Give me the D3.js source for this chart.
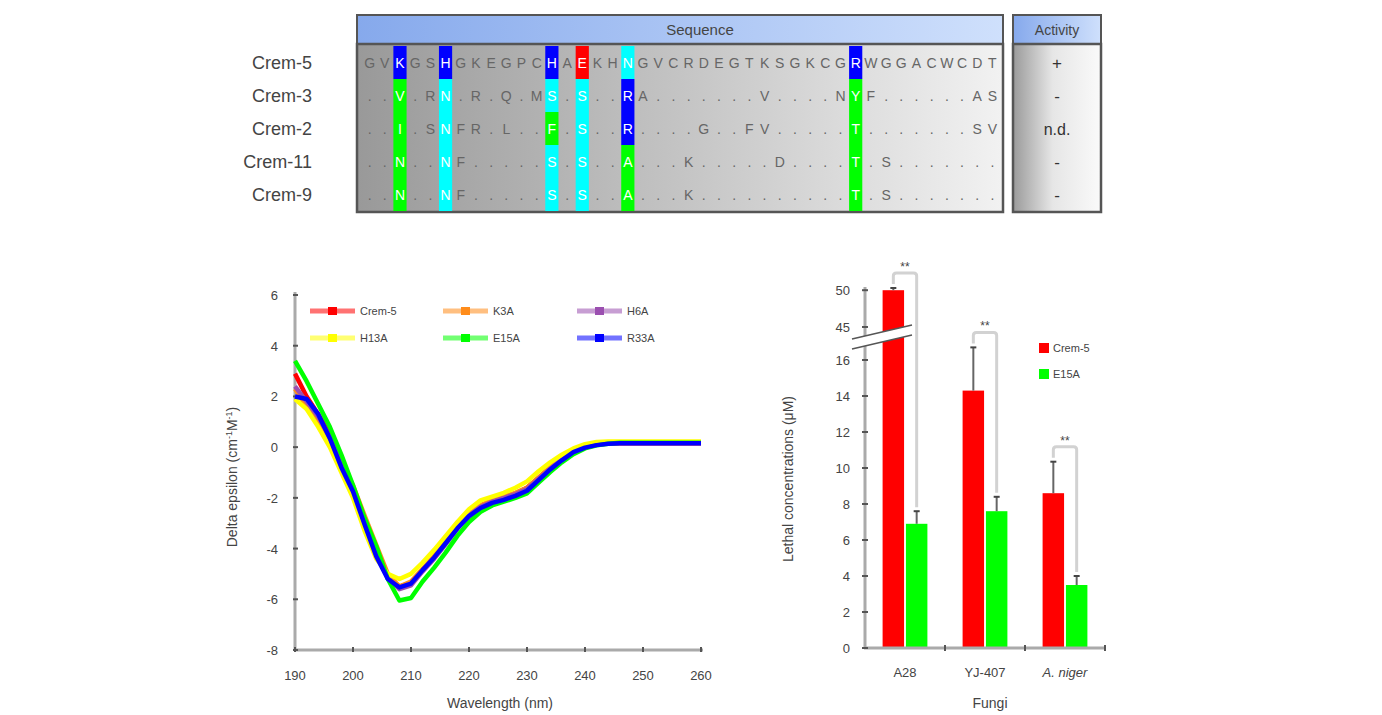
<!DOCTYPE html>
<html>
<head>
<meta charset="utf-8">
<script src="https://cdn.jsdelivr.net/npm/d3@7"></script>
<style>
  body { margin: 0; background: #fff; }
  text { font-family: "Liberation Sans", Arial, sans-serif; fill: #444; }
</style>
</head>
<body>
<div id="chart"></div>
<script>
// ---- data ----
const PEPTIDES = ["Crem-5", "Crem-3", "Crem-2", "Crem-11", "Crem-9"];
const SEQUENCES = [
  "GVKGSHGKEGPCHAEKHNGVCRDEGTKSGKCGRWGGACWCDT",
  "..V.RN.R.Q.MS.S..RA.......V....NYF......AS",
  "..I.SNFR.L..F.S..R....G..FV.....T.......SV",
  "..N..NF.....S.S..A...K.....D....T.S.......",
  "..N..NF.....S.S..A...K..........T.S......."
];
const ACTIVITY = ["+", "-", "n.d.", "-", "-"];
// highlighted columns and colour of each row
const HL_COLS = [2, 5, 12, 14, 17, 32];
const HL_COLORS = [
  ["blue", "green", "green", "green", "green"],
  ["blue", "cyan", "cyan", "cyan", "cyan"],
  ["blue", "cyan", "green", "cyan", "cyan"],
  ["red", "cyan", "cyan", "cyan", "cyan"],
  ["cyan", "blue", "blue", "green", "green"],
  ["blue", "green", "green", "green", "green"]
];

const WAVELENGTHS = d3.range(190, 261, 2);
const CD_NAMES = ["Crem-5", "K3A", "H6A", "H13A", "E15A", "R33A"];
const CD_COLORS = ["#ff0000", "#ff8c1a", "#9b4fb0", "#ffff00", "#00ff00", "#0000ff"];
const CD_CREM5 = [2.9, 2.0, 1.3, 0.5, -0.6, -1.7, -2.9, -4.1, -5.1, -5.5, -5.35, -4.85, -4.3, -3.7, -3.1, -2.6, -2.3, -2.1, -1.98, -1.82, -1.6, -1.2, -0.8, -0.45, -0.15, 0.02, 0.1, 0.14, 0.15, 0.15, 0.15, 0.15, 0.15, 0.15, 0.15, 0.15];
const CD_K3A = [2.3, 1.6, 1.0, 0.3, -0.6, -1.5, -2.7, -3.85, -5.0, -5.5, -5.3, -4.8, -4.3, -3.7, -3.15, -2.65, -2.3, -2.1, -1.95, -1.8, -1.6, -1.2, -0.8, -0.45, -0.15, 0.03, 0.12, 0.15, 0.16, 0.16, 0.16, 0.16, 0.16, 0.16, 0.16, 0.16];
const CD_H6A = [2.4, 1.8, 1.2, 0.4, -0.75, -1.8, -3.0, -4.2, -5.15, -5.6, -5.45, -4.9, -4.4, -3.82, -3.22, -2.7, -2.35, -2.15, -2.0, -1.85, -1.65, -1.25, -0.85, -0.48, -0.18, 0.0, 0.1, 0.14, 0.15, 0.15, 0.15, 0.15, 0.15, 0.15, 0.15, 0.15];
const CD_H13A = [1.9, 1.5, 0.8, 0.0, -1.0, -2.0, -3.3, -4.4, -5.0, -5.2, -5.0, -4.55, -4.05, -3.5, -2.95, -2.45, -2.1, -1.95, -1.8, -1.6, -1.35, -0.95, -0.6, -0.3, -0.05, 0.12, 0.2, 0.22, 0.22, 0.22, 0.22, 0.22, 0.22, 0.22, 0.22, 0.22];
const CD_E15A = [3.4, 2.6, 1.7, 0.8, -0.3, -1.5, -2.8, -3.9, -5.2, -6.05, -5.95, -5.3, -4.75, -4.15, -3.5, -2.95, -2.55, -2.3, -2.15, -2.0, -1.82, -1.4, -0.98, -0.6, -0.28, -0.05, 0.07, 0.13, 0.17, 0.17, 0.17, 0.17, 0.17, 0.17, 0.17, 0.17];
const CD_R33A = [2.0, 1.9, 1.3, 0.35, -0.8, -1.75, -3.05, -4.3, -5.2, -5.53, -5.38, -4.85, -4.35, -3.78, -3.2, -2.72, -2.4, -2.2, -2.08, -1.92, -1.72, -1.3, -0.88, -0.52, -0.2, -0.02, 0.08, 0.13, 0.15, 0.15, 0.15, 0.15, 0.15, 0.15, 0.15, 0.15];
const CD_SERIES = [CD_CREM5, CD_K3A, CD_H6A, CD_H13A, CD_E15A, CD_R33A];
const CD_X_TICKS = [190, 200, 210, 220, 230, 240, 250, 260];
const CD_Y_TICKS = [6, 4, 2, 0, -2, -4, -6, -8];

const FUNGI = ["A28", "YJ-407", "A. niger"];
const BAR_GROUPS = ["Crem-5", "E15A"];
const BAR_COLORS = ["#ff0000", "#00ff00"];
const LC_CREM5 = [50, 14.3, 8.6];
const LC_CREM5_SD = [0.3, 2.4, 1.75];
const LC_E15A = [6.9, 7.6, 3.5];
const LC_E15A_SD = [0.7, 0.8, 0.5];
const LC_LOW_TICKS = [0, 2, 4, 6, 8, 10, 12, 14, 16];
const LC_HIGH_TICKS = [45, 50];

// ---- frame ----
const FRAME_WIDTH = 1382;
const FRAME_HEIGHT = 715;
const SVG = d3.select("#chart").append("svg")
  .attr("width", FRAME_WIDTH)
  .attr("height", FRAME_HEIGHT);

const defs = SVG.append("defs");
function grad(id, stops, vertical) {
  const g = defs.append("linearGradient").attr("id", id)
    .attr("x1", 0).attr("y1", 0)
    .attr("x2", vertical ? 0 : 1).attr("y2", vertical ? 1 : 0);
  stops.forEach(s => g.append("stop").attr("offset", s[0]).attr("stop-color", s[1]));
}
grad("seqBody", [[0, "#999999"], [0.5, "#c4c4c4"], [1, "#f2f2f2"]]);
grad("actBody", [[0, "#9a9a9a"], [0.45, "#e6e6e6"], [1, "#fafafa"]]);
grad("hdr", [[0, "#86a9ec"], [1, "#cfe0fc"]]);

// ---- sequence alignment table ----
const TABLE = SVG.append("g");
const SEQ_X = d3.scaleBand().domain(d3.range(42)).range([362, 1000]);
const ROW_Y = d3.scaleBand().domain(PEPTIDES).range([46, 211]);

TABLE.append("rect").attr("x", 357).attr("y", 15).attr("width", 646).attr("height", 29)
  .attr("fill", "url(#hdr)").attr("stroke", "#555").attr("stroke-width", 2);
TABLE.append("rect").attr("x", 1013).attr("y", 15).attr("width", 88).attr("height", 29)
  .attr("fill", "url(#hdr)").attr("stroke", "#555").attr("stroke-width", 2);
TABLE.append("rect").attr("x", 357).attr("y", 44).attr("width", 646).attr("height", 168)
  .attr("fill", "url(#seqBody)").attr("stroke", "#555").attr("stroke-width", 2.5);
TABLE.append("rect").attr("x", 1013).attr("y", 44).attr("width", 88).attr("height", 168)
  .attr("fill", "url(#actBody)").attr("stroke", "#555").attr("stroke-width", 2.5);
TABLE.append("text").attr("x", 700).attr("y", 35).attr("text-anchor", "middle")
  .attr("font-size", 15).text("Sequence");
TABLE.append("text").attr("x", 1057).attr("y", 35).attr("text-anchor", "middle")
  .attr("font-size", 14).text("Activity");

const COLOR_MAP = {blue: "#0000ff", green: "#00ff00", cyan: "#00ffff", red: "#ff0000"};
HL_COLS.forEach((c, i) => {
  PEPTIDES.forEach((p, r) => {
    TABLE.append("rect")
      .attr("x", SEQ_X(c) + 1).attr("y", ROW_Y(p))
      .attr("width", SEQ_X.bandwidth() - 2).attr("height", ROW_Y.bandwidth())
      .attr("fill", COLOR_MAP[HL_COLORS[i][r]]);
  });
});

PEPTIDES.forEach((p, r) => {
  const cy = ROW_Y(p) + ROW_Y.bandwidth() / 2;
  TABLE.append("text").attr("x", 312).attr("y", cy + 6).attr("text-anchor", "end")
    .attr("font-size", 18).attr("fill", "#444").text(p);
  SEQUENCES[r].split("").forEach((ch, c) => {
    const hl = HL_COLS.includes(c);
    TABLE.append("text")
      .attr("x", SEQ_X(c) + SEQ_X.bandwidth() / 2).attr("y", cy + 5)
      .attr("text-anchor", "middle").attr("font-size", 14)
      .style("fill", hl ? "#ffffff" : "#666")
      .text(ch);
  });
  TABLE.append("text").attr("x", 1057).attr("y", cy + 6).attr("text-anchor", "middle")
    .attr("font-size", ACTIVITY[r] === "n.d." ? 16 : 17).style("fill", "#333").text(ACTIVITY[r]);
});

// ---- CD spectra ----
const CD = SVG.append("g");
const CD_X = d3.scaleLinear().domain([190, 260]).range([295, 701]);
const CD_Y = d3.scaleLinear().domain([-8, 6]).range([650, 295]);

CD.append("line").attr("x1", 295).attr("x2", 295).attr("y1", 292).attr("y2", 650)
  .attr("stroke", "#aaa").attr("stroke-width", 3);
CD.append("line").attr("x1", 295).attr("x2", 703).attr("y1", 650).attr("y2", 650)
  .attr("stroke", "#aaa").attr("stroke-width", 3);
CD_Y_TICKS.forEach(t => {
  CD.append("line").attr("x1", 293).attr("x2", 298).attr("y1", CD_Y(t)).attr("y2", CD_Y(t))
    .attr("stroke", "#555").attr("stroke-width", 2);
  CD.append("text").attr("x", 278).attr("y", CD_Y(t) + 5).attr("text-anchor", "end")
    .attr("font-size", 13).text(t);
});
CD_X_TICKS.forEach(t => {
  CD.append("line").attr("x1", CD_X(t)).attr("x2", CD_X(t)).attr("y1", 647).attr("y2", 652)
    .attr("stroke", "#555").attr("stroke-width", 2);
  CD.append("text").attr("x", CD_X(t)).attr("y", 680).attr("text-anchor", "middle")
    .attr("font-size", 13).text(t);
});
CD.append("text").attr("x", 500).attr("y", 708).attr("text-anchor", "middle")
  .attr("font-size", 14).text("Wavelength (nm)");
CD.append("text").attr("transform", "translate(237,477) rotate(-90)").attr("text-anchor", "middle")
  .attr("font-size", 14)
  .html('Delta epsilon (cm<tspan dy="-5" font-size="9">-1</tspan><tspan dy="5">M</tspan><tspan dy="-5" font-size="9">-1</tspan><tspan dy="5">)</tspan>');

const cdLine = d3.line().x((d, i) => CD_X(WAVELENGTHS[i])).y(d => CD_Y(d));
CD_SERIES.forEach((s, k) => {
  CD.append("path").datum(s).attr("d", cdLine)
    .attr("fill", "none").attr("stroke", CD_COLORS[k]).attr("stroke-width", 4.5)
    .attr("stroke-linejoin", "round");
});

// legend, 3 columns x 2 rows
const LEG_X = [310, 443, 577];
const LEG_Y = [311, 338];
CD_NAMES.forEach((n, k) => {
  const lx = LEG_X[k % 3], ly = LEG_Y[Math.floor(k / 3)];
  CD.append("line").attr("x1", lx).attr("x2", lx + 45).attr("y1", ly).attr("y2", ly)
    .attr("stroke", CD_COLORS[k]).attr("stroke-width", 5).attr("opacity", 0.55);
  CD.append("rect").attr("x", lx + 18).attr("y", ly - 4).attr("width", 9).attr("height", 8)
    .attr("fill", CD_COLORS[k]);
  CD.append("text").attr("x", lx + 50).attr("y", ly + 4).attr("font-size", 11).text(n);
});

// ---- lethal concentrations bar chart ----
const BAR = SVG.append("g");
const X0 = d3.scaleBand().domain(FUNGI).range([865, 1105]).paddingInner(0.44).paddingOuter(0.22);
const X1 = d3.scaleBand().domain(BAR_GROUPS).range([0, X0.bandwidth()]).paddingInner(0.08);
const Y_LOW = d3.scaleLinear().domain([0, 17]).range([648, 342]);
const Y_HIGH = d3.scaleLinear().domain([43.5, 50.3]).range([338, 288]);
const yOf = v => v > 17 ? Y_HIGH(v) : Y_LOW(v);

const barData = FUNGI.map((f, i) => [
  {f: f, g: "Crem-5", v: LC_CREM5[i], sd: LC_CREM5_SD[i], c: BAR_COLORS[0]},
  {f: f, g: "E15A", v: LC_E15A[i], sd: LC_E15A_SD[i], c: BAR_COLORS[1]}
]);

barData.flat().forEach(d => {
  const x = X0(d.f) + X1(d.g);
  BAR.append("rect").attr("x", x).attr("y", yOf(d.v)).attr("width", X1.bandwidth())
    .attr("height", 648 - yOf(d.v)).attr("fill", d.c);
  const cx = x + X1.bandwidth() / 2;
  const yTop = yOf(d.v + d.sd);
  BAR.append("line").attr("x1", cx).attr("x2", cx).attr("y1", yOf(d.v)).attr("y2", yTop)
    .attr("stroke", "#666").attr("stroke-width", 2);
  BAR.append("line").attr("x1", cx - 3).attr("x2", cx + 3).attr("y1", yTop).attr("y2", yTop)
    .attr("stroke", "#444").attr("stroke-width", 2);
});

// significance brackets
barData.forEach(pair => {
  const xl = X0(pair[0].f) + X1(pair[0].g) + X1.bandwidth() / 2;
  const xr = X0(pair[1].f) + X1(pair[1].g) + X1.bandwidth() / 2;
  const yl = yOf(pair[0].v + pair[0].sd) - 4;
  const yr = yOf(pair[1].v + pair[1].sd) - 4;
  const yt = Math.min(yl, yr) - 11;
  BAR.append("path")
    .attr("d", `M${xl},${yl} L${xl},${yt + 3} Q${xl},${yt} ${xl + 3},${yt} L${xr - 3},${yt} Q${xr},${yt} ${xr},${yt + 3} L${xr},${yr}`)
    .attr("fill", "none").attr("stroke", "#d2d2d2").attr("stroke-width", 3);
  BAR.append("text").attr("x", (xl + xr) / 2).attr("y", yt - 2).attr("text-anchor", "middle")
    .attr("font-size", 12).text("**");
});

// axes
BAR.append("line").attr("x1", 865).attr("x2", 865).attr("y1", 287).attr("y2", 649)
  .attr("stroke", "#aaa").attr("stroke-width", 3);
BAR.append("line").attr("x1", 864).attr("x2", 1106).attr("y1", 648).attr("y2", 648)
  .attr("stroke", "#aaa").attr("stroke-width", 3);
// axis break
BAR.append("polygon").attr("points", "852,339 912,325 912,335 852,349").attr("fill", "#fff");
BAR.append("line").attr("x1", 852).attr("x2", 912).attr("y1", 339).attr("y2", 325)
  .attr("stroke", "#555").attr("stroke-width", 1.5);
BAR.append("line").attr("x1", 852).attr("x2", 912).attr("y1", 349).attr("y2", 335)
  .attr("stroke", "#555").attr("stroke-width", 1.5);

LC_LOW_TICKS.forEach(t => {
  BAR.append("line").attr("x1", 862).attr("x2", 868).attr("y1", Y_LOW(t)).attr("y2", Y_LOW(t))
    .attr("stroke", "#555").attr("stroke-width", 2);
  BAR.append("text").attr("x", 850).attr("y", Y_LOW(t) + 5).attr("text-anchor", "end")
    .attr("font-size", 13).text(t);
});
LC_HIGH_TICKS.forEach(t => {
  BAR.append("line").attr("x1", 862).attr("x2", 868).attr("y1", Y_HIGH(t)).attr("y2", Y_HIGH(t))
    .attr("stroke", "#555").attr("stroke-width", 2);
  BAR.append("text").attr("x", 850).attr("y", Y_HIGH(t) + 5).attr("text-anchor", "end")
    .attr("font-size", 13).text(t);
});
FUNGI.forEach((f, i) => {
  const right = X0(f) + X0.bandwidth() + X0.step() * X0.paddingInner() / 2;
  BAR.append("line").attr("x1", right).attr("x2", right).attr("y1", 645).attr("y2", 651)
    .attr("stroke", "#555").attr("stroke-width", 2);
  const t = BAR.append("text").attr("x", X0(f) + X0.bandwidth() / 2).attr("y", 677)
    .attr("text-anchor", "middle").attr("font-size", 13).text(f);
  if (f === "A. niger") t.style("font-style", "italic");
});
BAR.append("text").attr("x", 990).attr("y", 708).attr("text-anchor", "middle")
  .attr("font-size", 14).text("Fungi");
BAR.append("text").attr("transform", "translate(793,479) rotate(-90)").attr("text-anchor", "middle")
  .attr("font-size", 14).text("Lethal concentrations (μM)");

BAR_GROUPS.forEach((g, k) => {
  const ly = 348 + k * 26;
  BAR.append("rect").attr("x", 1039).attr("y", ly - 5).attr("width", 10).attr("height", 10)
    .attr("fill", BAR_COLORS[k]);
  BAR.append("text").attr("x", 1053).attr("y", ly + 4).attr("font-size", 11).text(g);
});
</script>
</body>
</html>
